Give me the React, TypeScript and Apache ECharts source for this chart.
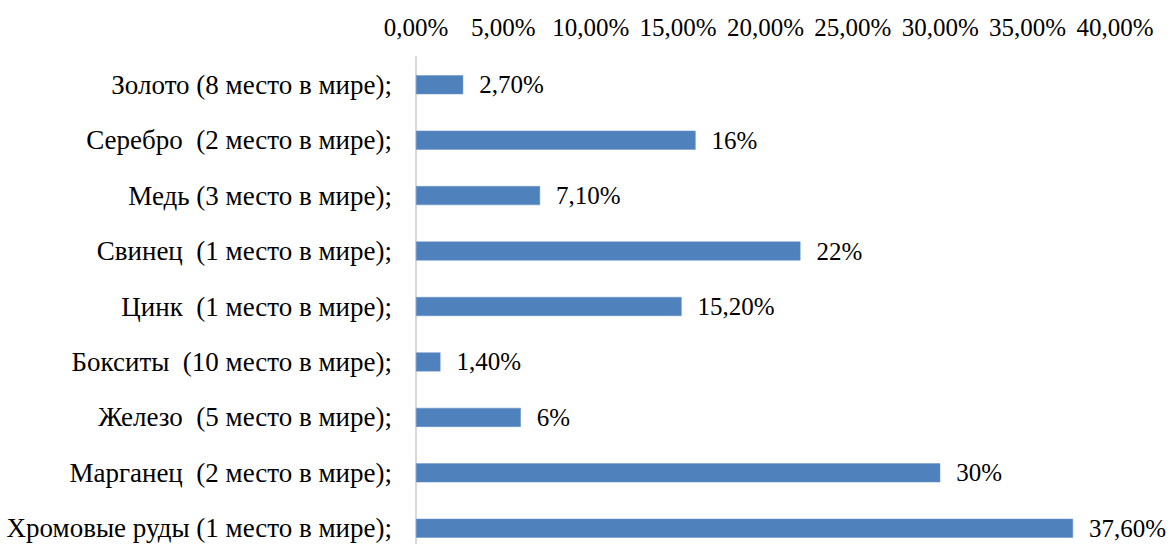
import React, { useEffect, useRef } from "react";
import * as echarts from "echarts";

const categories = [
  "Золото (8 место в мире);",
  "Серебро  (2 место в мире);",
  "Медь (3 место в мире);",
  "Свинец  (1 место в мире);",
  "Цинк  (1 место в мире);",
  "Бокситы  (10 место в мире);",
  "Железо  (5 место в мире);",
  "Марганец  (2 место в мире);",
  "Хромовые руды (1 место в мире);",
];
const values = [2.7, 16, 7.1, 22, 15.2, 1.4, 6, 30, 37.6];
const valueLabels = ["2,70%", "16%", "7,10%", "22%", "15,20%", "1,40%", "6%", "30%", "37,60%"];
const tickMin = 0;
const tickMax = 40;
const tickStep = 5;

export default function App() {
  const ref = useRef<HTMLDivElement>(null);
  useEffect(() => {
    if (!ref.current) return;
    const chart = echarts.init(ref.current, null, { renderer: "svg" });
    const font = "'Liberation Serif', 'Times New Roman', serif";
    chart.setOption({
      animation: false,
      backgroundColor: "#ffffff",
      textStyle: { fontFamily: font },
      grid: { left: 416, right: 59, top: 57, bottom: 14, containLabel: false },
      xAxis: {
        type: "value",
        position: "top",
        min: tickMin,
        max: tickMax,
        interval: tickStep,
        axisLine: { show: false },
        axisTick: { show: false },
        splitLine: { show: false },
        axisLabel: {
          color: "#000",
          fontSize: 25,
          fontFamily: font,
          margin: 17,
          formatter: (v: number) => v.toFixed(2).replace(".", ",") + "%",
        },
      },
      yAxis: {
        type: "category",
        inverse: true,
        data: categories,
        axisLine: { show: true, lineStyle: { color: "#d9d9d9", width: 2 } },
        axisTick: { show: false },
        axisLabel: {
          color: "#000",
          fontSize: 27,
          fontFamily: font,
          margin: 24,
        },
      },
      series: [
        {
          type: "bar",
          data: values,
          barWidth: 19,
          itemStyle: { color: "#4f81bd", borderColor: "#6a93c7", borderWidth: 0.5 },
          label: {
            show: true,
            position: "right",
            distance: 16,
            color: "#000",
            fontSize: 25,
            fontFamily: font,
            formatter: (p: any) => valueLabels[p.dataIndex],
          },
        },
      ],
    });
    return () => chart.dispose();
  }, []);
  return (
    <div
      ref={ref}
      style={{ position: "absolute", left: 0, top: 0, width: 1174, height: 570 }}
    />
  );
}
